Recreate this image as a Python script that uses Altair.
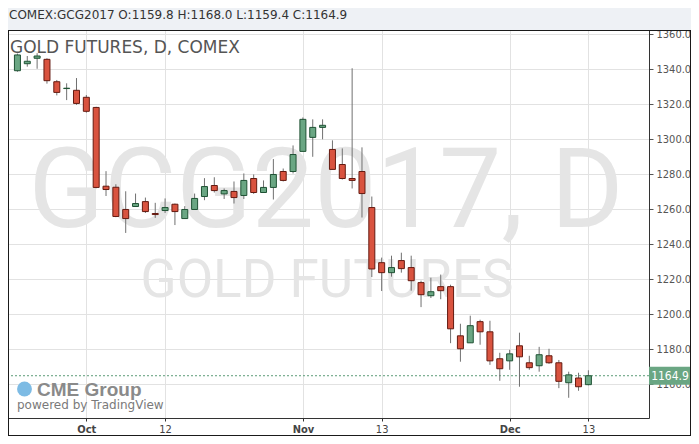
import altair as alt
import pandas as pd

# ---------------- data ----------------
header_text = "COMEX:GCG2017 O:1159.8 H:1168.0 L:1159.4 C:1164.9"
title_text = "GOLD FUTURES, D, COMEX"
watermark_main = "GCG2017, D"
watermark_sub = "GOLD FUTURES"
logo_text = "CME Group"
powered_text = "powered by TradingView"

opens = [1339.2, 1343.2, 1346.3, 1345.7, 1332.9, 1329.0, 1328.0, 1324.0, 1318.2, 1273.2,
         1272.6, 1259.9, 1261.6, 1264.4, 1257.6, 1259.3, 1262.9, 1254.7, 1259.9, 1267.3,
         1273.6, 1268.8, 1270.2, 1267.9, 1277.6, 1269.6, 1272.5, 1281.6, 1281.6, 1293.1,
         1301.1, 1306.8, 1294.2, 1285.6, 1277.6, 1281.6, 1261.0, 1229.5, 1223.8, 1230.7,
         1226.7, 1218.1, 1210.6, 1215.8, 1215.8, 1187.7, 1183.7, 1195.8, 1190.0, 1174.6,
         1173.4, 1182.0, 1172.3, 1170.6, 1176.3, 1172.3, 1160.9, 1163.6, 1159.8]
highs = [1349.0, 1347.6, 1349.2, 1346.3, 1333.9, 1332.0, 1335.0, 1325.3, 1318.6, 1281.8,
         1274.3, 1270.3, 1269.0, 1266.7, 1263.7, 1266.2, 1263.3, 1261.8, 1269.0, 1277.8,
         1278.3, 1271.9, 1275.9, 1280.5, 1279.9, 1276.5, 1288.7, 1283.3, 1296.5, 1312.5,
         1311.4, 1311.4, 1299.4, 1294.8, 1340.6, 1295.4, 1267.3, 1232.4, 1233.5, 1235.2,
         1233.5, 1219.2, 1220.9, 1222.7, 1216.9, 1194.6, 1199.2, 1196.9, 1196.3, 1178.0,
         1179.7, 1189.5, 1176.3, 1181.4, 1180.3, 1173.9, 1167.2, 1166.6, 1168.0]
lows = [1338.6, 1341.5, 1340.3, 1331.8, 1325.1, 1322.4, 1319.7, 1315.2, 1272.0, 1267.6,
        1255.5, 1246.5, 1261.4, 1257.9, 1255.1, 1257.9, 1251.0, 1254.7, 1259.9, 1265.2,
        1269.6, 1265.9, 1263.3, 1265.9, 1268.8, 1269.6, 1265.6, 1275.9, 1280.5, 1293.1,
        1290.0, 1300.0, 1282.8, 1277.0, 1271.9, 1255.3, 1221.3, 1213.3, 1221.5, 1223.8,
        1213.5, 1204.1, 1209.3, 1208.6, 1183.5, 1172.9, 1183.7, 1182.6, 1171.1, 1162.0,
        1168.3, 1158.6, 1168.3, 1167.2, 1171.7, 1157.8, 1152.3, 1156.3, 1159.4]
closes = [1348.2, 1344.6, 1347.6, 1333.5, 1326.8, 1329.2, 1320.5, 1316.0, 1272.5, 1271.3,
          1255.9, 1254.7, 1263.3, 1258.7, 1257.0, 1261.0, 1258.7, 1259.9, 1266.2, 1273.0,
          1270.7, 1270.7, 1266.7, 1276.5, 1269.6, 1272.5, 1279.9, 1276.5, 1291.3, 1311.4,
          1306.8, 1308.0, 1282.8, 1277.6, 1276.5, 1269.0, 1225.9, 1223.8, 1226.7, 1226.1,
          1219.2, 1211.2, 1212.9, 1213.5, 1191.7, 1180.3, 1193.5, 1190.0, 1173.4, 1168.9,
          1177.4, 1175.7, 1169.5, 1176.9, 1172.3, 1161.7, 1165.4, 1158.6, 1164.9]

tick_idx = [7, 15, 29, 37, 50, 58]
tick_labels = ["Oct", "12", "Nov", "13", "Dec", "13"]
month_idx = [7, 29, 50]
price_ticks = [1160, 1180, 1200, 1220, 1240, 1260, 1280, 1300, 1320, 1340, 1360]
last_price = 1164.9

df = pd.DataFrame({"i": list(range(len(opens))), "o": opens, "h": highs,
                   "l": lows, "c": closes})
price_df = pd.DataFrame({"p": [last_price]})
one = pd.DataFrame({"k": [0]})

# ---------------- style ----------------
W, H = 641, 388
PAD = {"left": 0, "top": 22, "right": 42, "bottom": 18}
GREEN, GREEN_D = "#6aa683", "#1f5234"
RED, RED_D = "#d9533f", "#641a10"
WICK = "#707070"
GRID = "#e2e2e2"
COND = "DejaVu Sans Condensed, Liberation Sans Narrow, Liberation Sans, sans-serif"

xscale = alt.Scale(domain=[-0.45, 63.65], nice=False, zero=False)
yscale = alt.Scale(domain=[1140.74, 1362.46], nice=False, zero=False)

label_expr = " : ".join(f"datum.value == {v} ? '{t}'" for v, t in zip(tick_idx, tick_labels)) + " : ''"
bold_test = " || ".join(f"datum.value == {v}" for v in month_idx)

xaxis = alt.Axis(values=tick_idx, labelExpr=label_expr, title=None, grid=True,
                 gridColor=GRID, domainColor="#333333", tickColor="#333333",
                 tickSize=3, labelFont=COND, labelFontSize=11, labelColor="#444444",
                 labelFontWeight=alt.condition(bold_test, alt.value("bold"), alt.value("normal")),
                 labelPadding=2, labelOverlap=False)
yaxis = alt.Axis(orient="right", values=price_ticks, format=".1f", title=None,
                 grid=True, gridColor=GRID, domainColor="#333333", tickColor="#555555",
                 tickSize=4, labelFont=COND, labelFontSize=11, labelColor="#555555",
                 labelPadding=3, labelOverlap=False)

X = alt.X("i:Q", scale=xscale, axis=xaxis)

# ---------------- layers ----------------
strip = alt.Chart(one).mark_rect(color="#eef1f5").encode(
    x=alt.value(0), x2=alt.value(W + PAD["right"]), y=alt.value(-PAD["top"]), y2=alt.value(0))

wm_main = alt.Chart(pd.DataFrame({"t": [watermark_main]})).mark_text(
    font="Roboto", fontSize=111, color="#e5e5e5", align="center", baseline="alphabetic"
).encode(x=alt.value(318), y=alt.value(197), text="t:N")
wm_sub = alt.Chart(pd.DataFrame({"t": [watermark_sub]})).mark_text(
    font="Roboto", fontSize=53, color="#e5e5e5", align="center", baseline="alphabetic"
).encode(x=alt.value(319), y=alt.value(267), text="t:N")

title = alt.Chart(pd.DataFrame({"t": [title_text]})).mark_text(
    font="DejaVu Sans", fontSize=17, color="#555555", align="left", baseline="alphabetic"
).encode(x=alt.value(2), y=alt.value(23), text="t:N")

header = alt.Chart(pd.DataFrame({"t": [header_text]})).mark_text(
    font="DejaVu Sans", fontSize=12, color="#333333", align="left", baseline="alphabetic"
).encode(x=alt.value(1), y=alt.value(-11), text="t:N")

globe = alt.Chart(one).mark_point(shape="circle", filled=True, size=220, color="#7dbbe4",
                                  opacity=1).encode(x=alt.value(16.5), y=alt.value(359))
logo = alt.Chart(pd.DataFrame({"t": [logo_text]})).mark_text(
    font="Liberation Sans", fontSize=19, fontWeight="bold", color="#8a8a8a",
    align="left", baseline="alphabetic"
).encode(x=alt.value(29), y=alt.value(366), text="t:N")
powered = alt.Chart(pd.DataFrame({"t": [powered_text]})).mark_text(
    font="DejaVu Sans", fontSize=12, color="#7a7a7a", align="left", baseline="alphabetic"
).encode(x=alt.value(9), y=alt.value(379), text="t:N")

price_line = alt.Chart(price_df).mark_rule(color="#5b9c78", strokeDash=[2, 2], strokeWidth=1).encode(
    y=alt.Y("p:Q", scale=yscale, axis=yaxis))

wicks = alt.Chart(df).mark_rule(color=WICK, strokeWidth=1, clip=True).encode(
    x=X, y=alt.Y("l:Q", scale=yscale, axis=yaxis), y2="h:Q")

up = "datum.c >= datum.o"
bodies = alt.Chart(df).mark_bar(size=6, strokeWidth=1, clip=True).encode(
    x=X, y=alt.Y("o:Q", scale=yscale, axis=yaxis), y2="c:Q",
    fill=alt.condition(up, alt.value(GREEN), alt.value(RED)),
    stroke=alt.condition(up, alt.value(GREEN_D), alt.value(RED_D)))

price_box = alt.Chart(price_df).transform_calculate(
    lo="datum.p - 5.14", hi="datum.p + 5.14"
).mark_rect(color="#6aa683").encode(
    x=alt.value(W), x2=alt.value(W + PAD["right"]),
    y=alt.Y("lo:Q", scale=yscale, axis=yaxis), y2="hi:Q")
price_text = alt.Chart(price_df).mark_text(
    font=COND, fontSize=12, color="white", align="center", baseline="middle"
).encode(x=alt.value(W + 21), y=alt.Y("p:Q", scale=yscale, axis=yaxis),
         text=alt.Text("p:Q", format=".1f"))

FRAME = "#1a1a1a"
f_top = alt.Chart(one).mark_rule(color=FRAME, strokeWidth=1).encode(
    x=alt.value(0), x2=alt.value(W + PAD["right"]), y=alt.value(0.5))
f_left = alt.Chart(one).mark_rule(color=FRAME, strokeWidth=1).encode(
    x=alt.value(0.5), y=alt.value(0), y2=alt.value(H + PAD["bottom"]))
f_right = alt.Chart(one).mark_rule(color=FRAME, strokeWidth=1).encode(
    x=alt.value(W + PAD["right"] - 0.5), y=alt.value(0), y2=alt.value(H + PAD["bottom"]))
f_bottom = alt.Chart(one).mark_rule(color=FRAME, strokeWidth=1).encode(
    x=alt.value(0), x2=alt.value(W + PAD["right"]), y=alt.value(H + PAD["bottom"] - 0.5))

chart = alt.layer(
    strip, wm_main, wm_sub, title, globe, logo, powered, price_line,
    wicks, bodies, price_box, price_text, header, f_top, f_left, f_right, f_bottom
).properties(
    width=W, height=H,
    autosize=alt.AutoSizeParams(type="none"),
    padding=PAD,
    background="white",
).configure_view(stroke=None)

chart.save("out.html", embed_options={"renderer": "svg", "actions": False})
